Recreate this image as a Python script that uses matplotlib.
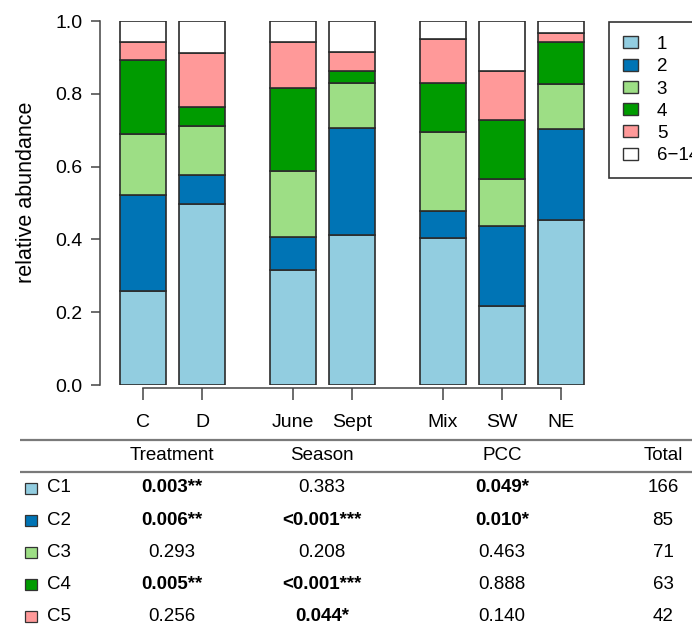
import matplotlib.pyplot as plt
from matplotlib.patches import Patch, Rectangle

plt.rcParams['font.family'] = ['Liberation Sans', 'DejaVu Sans']

# bar groups and tick labels
groups = [['C', 'D'], ['June', 'Sept'], ['Mix', 'SW', 'NE']]

# relative abundance of each cluster per sample group
c1 = [0.258, 0.498, 0.315, 0.411, 0.404, 0.216, 0.452]
c2 = [0.265, 0.078, 0.091, 0.296, 0.074, 0.222, 0.252]
c3 = [0.167, 0.136, 0.182, 0.122, 0.216, 0.128, 0.122]
c4 = [0.202, 0.052, 0.227, 0.033, 0.136, 0.163, 0.117]
c5 = [0.049, 0.148, 0.126, 0.052, 0.121, 0.135, 0.025]
c_rest = [0.059, 0.088, 0.059, 0.086, 0.049, 0.136, 0.032]
series = [c1, c2, c3, c4, c5, c_rest]
legend_labels = ['1', '2', '3', '4', '5', '6\u221214']
colors = ['#92CDE0', '#0074B5', '#9DDE85', '#009B00', '#FF9999', '#FFFFFF']

# table below the chart
table_header = ['Treatment', 'Season', 'PCC', 'Total']
row_names = ['C1', 'C2', 'C3', 'C4', 'C5']
treatment_p = ['0.003**', '0.006**', '0.293', '0.005**', '0.256']
season_p = ['0.383', '<0.001***', '0.208', '<0.001***', '0.044*']
pcc_p = ['0.049*', '0.010*', '0.463', '0.888', '0.140']
totals = ['166', '85', '71', '63', '42']

W, H = 692, 630
fig = plt.figure(figsize=(W / 100, H / 100), dpi=100)

# bar positions: unit spacing within a group, extra gap between groups
gap = 0.54
labels, pos = [], []
for g, names in enumerate(groups):
    for n in names:
        pos.append(len(pos) + g * gap)
        labels.append(n)

ax = fig.add_axes([100 / W, 1 - 385 / H, 500 / W, 364 / H])
bottom = [0.0] * len(pos)
for vals, col in zip(series, colors):
    ax.bar(pos, vals, width=0.78, bottom=bottom, color=col,
           edgecolor='#2b2b2b', linewidth=1.2)
    bottom = [b + v for b, v in zip(bottom, vals)]

ax.set_ylim(0, 1)
ax.set_xlim(-0.729, 7.746)
ax.set_yticks([0, 0.2, 0.4, 0.6, 0.8, 1.0])
ax.set_yticklabels(['0.0', '0.2', '0.4', '0.6', '0.8', '1.0'])
ax.set_xticks(pos)
ax.set_xticklabels(labels)
for s in ['top', 'right']:
    ax.spines[s].set_visible(False)
ax.spines['left'].set_bounds(0, 1)
ax.spines['bottom'].set_bounds(pos[0], pos[-1])
ax.spines['bottom'].set_position(('outward', 2.2))
for s in ['left', 'bottom']:
    ax.spines[s].set_color('#444444')
    ax.spines[s].set_linewidth(1.1)
ax.tick_params(axis='y', length=6.5, width=1.1, color='#444444', pad=6, labelsize=14)
ax.tick_params(axis='x', length=8.6, width=1.1, color='#444444', pad=10, labelsize=14)
ax.set_ylabel('relative abundance', fontsize=15.5)
ax.yaxis.set_label_coords(-0.126, 0.529)

handles = [Patch(facecolor=c, edgecolor='#333333', linewidth=1) for c in colors]
leg = fig.legend(handles, legend_labels, loc='upper left',
                 bbox_to_anchor=(609 / W, 1 - 22 / H), bbox_transform=fig.transFigure,
                 fancybox=False, edgecolor='#333333', framealpha=1,
                 borderpad=0.75, borderaxespad=0, labelspacing=0.28,
                 handlelength=0.8, handleheight=0.61, handletextpad=1.0,
                 fontsize=13.5)
leg.get_frame().set_linewidth(1.2)

# table drawn on a full-figure axes in pixel units
tax = fig.add_axes([0, 0, 1, 1])
tax.set_xlim(0, W)
tax.set_ylim(H, 0)
tax.axis('off')

col_x = [172, 322, 502, 663]
header_y = 456
row_y0, row_dy = 488, 32.2
for yl in [440, 472]:
    tax.plot([20, W], [yl, yl], color='#7a7a7a', lw=1.6, solid_capstyle='butt')
for x, h in zip(col_x, table_header):
    tax.text(x, header_y, h, ha='center', va='center', fontsize=13.5)

columns = [treatment_p, season_p, pcc_p, totals]
for i, name in enumerate(row_names):
    y = row_y0 + i * row_dy
    tax.add_patch(Rectangle((25, y - 5.5), 12, 11, facecolor=colors[i],
                            edgecolor='#333333', lw=0.9))
    tax.text(47, y, name, ha='left', va='center', fontsize=13.5)
    for x, col in zip(col_x, columns):
        txt = col[i]
        tax.text(x, y, txt, ha='center', va='center', fontsize=13.5,
                 fontweight='bold' if '*' in txt else 'normal')

fig.savefig('out.png', dpi=100)
